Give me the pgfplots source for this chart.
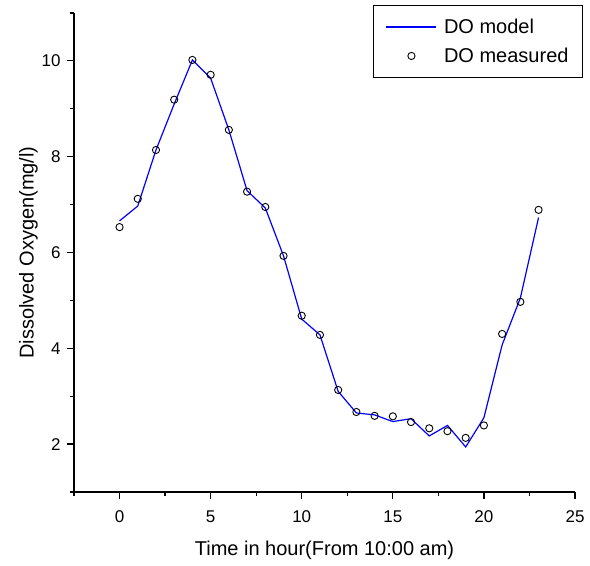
\documentclass[border=0pt]{standalone}
\usepackage{pgfplots}
\pgfplotsset{compat=1.18}
\usepackage{fontspec}
\setmainfont{Liberation Sans}
\begin{document}
\begin{tikzpicture}
\begin{axis}[
  scale only axis,
  width=501bp, height=479bp,
  xmin=-2.5, xmax=25, ymin=1, ymax=11,
  axis lines=left,
  axis line style={-, line width=1.4bp, black},
  xtick={0,5,...,25}, minor xtick={-2.5,2.5,...,22.5},
  ytick={2,4,...,10}, minor ytick={1,3,...,11},
  tick align=outside,
  major tick length=7bp, minor tick length=4bp,
  every tick/.style={black, line width=1.2bp},
  /pgf/number format/assume math mode=true,
  tick label style={font=\fontsize{17bp}{19bp}\selectfont},
  label style={font=\fontsize{20bp}{22bp}\selectfont},
  xlabel={Time in hour(From 10:00 am)},
  ylabel={Dissolved Oxygen(mg/l)},
  xticklabel style={yshift=-8bp},
  yticklabel style={xshift=-3bp},
  xlabel style={yshift=-12bp},
  ylabel style={yshift=-3bp},
  clip=false,
  legend style={at={(rel axis cs:1.016,1.0167)}, anchor=north east,
    draw=black, line width=1bp, font=\fontsize{20bp}{22bp}\selectfont,
    inner xsep=12bp, inner ysep=11.5bp, row sep=9bp, column sep=5bp},
  legend cell align=left,
  legend image code/.code={\draw[mark repeat=2,mark phase=2,#1] plot coordinates {(0bp,0bp) (25bp,0bp) (50bp,0bp)};},
]
\coordinate (O) at (rel axis cs:0,0);
\addplot[blue, line width=1.2bp, legend image post style={draw=blue, line width=1.2bp}] coordinates {
(0,6.66) (1,6.97) (2,8.14) (3,9.10) (4,10.02) (5,9.64) (6,8.56) (7,7.29)
(8,6.93) (9,5.93) (10,4.61) (11,4.28) (12,3.10) (13,2.65) (14,2.61) (15,2.47)
(16,2.53) (17,2.17) (18,2.39) (19,1.94) (20,2.55) (21,4.07) (22,5.05) (23,6.73)};
\addlegendentry{DO model}
\addplot[only marks, mark=o, mark size=3.6bp, mark options={black, fill=white, line width=0.9bp}] coordinates {
(0,6.53) (1,7.12) (2,8.14) (3,9.19) (4,10.02) (5,9.71) (6,8.56) (7,7.27)
(8,6.95) (9,5.93) (10,4.68) (11,4.28) (12,3.13) (13,2.67) (14,2.59) (15,2.58)
(16,2.46) (17,2.33) (18,2.27) (19,2.13) (20,2.39) (21,4.30) (22,4.97) (23,6.89)};
\addlegendentry{DO measured}
\end{axis}
\pgfresetboundingbox
\path ([shift={(-74bp,-74bp)}]O) rectangle ([shift={(516bp,492bp)}]O);
\end{tikzpicture}
\end{document}
